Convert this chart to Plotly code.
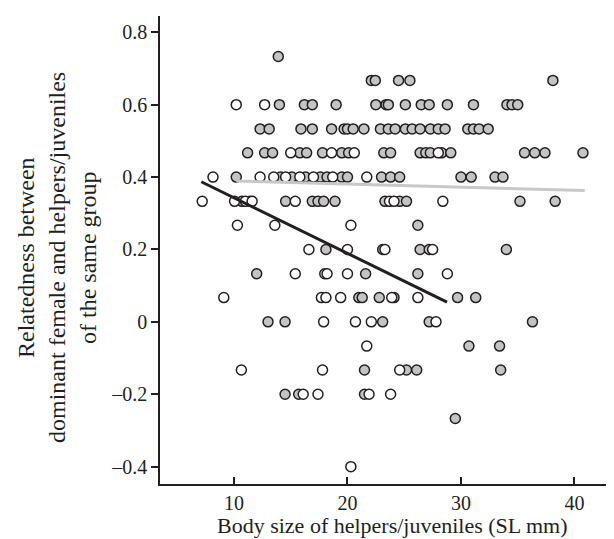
import plotly.graph_objects as go

# ---- data ----
grey_x = [13.9,
          22.1, 22.45, 24.5, 25.5, 38.1,
          14.0, 16.2, 16.9, 19.0, 22.5, 23.4, 23.6, 25.1, 26.5, 27.2, 28.8, 31.1, 34.05, 34.5, 35.0,
          12.3, 13.1, 15.9, 16.9, 18.6, 19.7, 20.0, 20.5, 21.45, 22.9, 23.6, 24.2, 25.1, 25.7, 26.4, 27.3, 28.0, 28.6, 30.6, 31.1, 31.6, 32.4,
          11.2, 12.7, 13.4, 15.8, 16.4, 17.8, 19.5, 20.1, 23.2, 23.8, 26.4, 26.9, 27.3, 28.3, 29.1, 35.6, 36.5, 37.4, 40.75,
          10.2, 14.1, 15.1, 16.3, 17.6, 18.2, 19.5, 20.0, 23.0, 23.8, 24.6, 30.0, 30.9, 33.0, 33.7,
          10.7, 11.4, 14.55, 16.9, 17.4, 17.9, 18.9, 23.3, 24.6, 25.2, 35.2, 38.3,
          26.2,
          18.1, 23.1, 26.4, 27.2, 34.0,
          12.0, 21.6, 26.2,
          21.0, 21.3, 22.8, 24.1, 29.7, 31.3,
          13.0, 14.5, 23.1, 27.2, 36.3,
          30.7, 33.4,
          21.5, 25.2, 26.1, 33.5,
          14.5, 15.7, 21.5,
          29.5]
grey_y = [0.733,
          0.667, 0.667, 0.667, 0.667, 0.667,
          0.6, 0.6, 0.6, 0.6, 0.6, 0.6, 0.6, 0.6, 0.6, 0.6, 0.6, 0.6, 0.6, 0.6, 0.6,
          0.533, 0.533, 0.533, 0.533, 0.533, 0.533, 0.533, 0.533, 0.533, 0.533, 0.533, 0.533, 0.533, 0.533, 0.533, 0.533, 0.533, 0.533, 0.533, 0.533, 0.533, 0.533,
          0.467, 0.467, 0.467, 0.467, 0.467, 0.467, 0.467, 0.467, 0.467, 0.467, 0.467, 0.467, 0.467, 0.467, 0.467, 0.467, 0.467, 0.467, 0.467,
          0.4, 0.4, 0.4, 0.4, 0.4, 0.4, 0.4, 0.4, 0.4, 0.4, 0.4, 0.4, 0.4, 0.4, 0.4,
          0.333, 0.333, 0.333, 0.333, 0.333, 0.333, 0.333, 0.333, 0.333, 0.333, 0.333, 0.333,
          0.267,
          0.2, 0.2, 0.2, 0.2, 0.2,
          0.133, 0.133, 0.133,
          0.067, 0.067, 0.067, 0.067, 0.067, 0.067,
          0.0, 0.0, 0.0, 0.0, 0.0,
          -0.067, -0.067,
          -0.133, -0.133, -0.133, -0.133,
          -0.2, -0.2, -0.2,
          -0.267]

open_x = [10.2, 12.7,
          15.0, 18.6, 20.6, 28.0,
          8.15, 12.3, 13.5, 14.55, 15.8, 17.0, 18.7, 21.7,
          7.2, 10.05, 11.0, 11.6, 15.4, 23.7, 24.1, 28.4,
          10.3, 13.6, 20.3,
          16.6, 20.0, 23.3, 27.5,
          15.4, 18.0, 18.2, 20.0, 28.8,
          9.1, 17.7, 18.1, 19.4, 23.9, 26.2,
          17.9, 20.7, 22.1, 27.8,
          21.7,
          10.65, 17.8, 24.6,
          16.1, 17.4, 21.9, 23.8,
          20.3]
open_y = [0.6, 0.6,
          0.467, 0.467, 0.467, 0.467,
          0.4, 0.4, 0.4, 0.4, 0.4, 0.4, 0.4, 0.4,
          0.333, 0.333, 0.333, 0.333, 0.333, 0.333, 0.333, 0.333,
          0.267, 0.267, 0.267,
          0.2, 0.2, 0.2, 0.2,
          0.133, 0.133, 0.133, 0.133, 0.133,
          0.067, 0.067, 0.067, 0.067, 0.067, 0.067,
          0.0, 0.0, 0.0, 0.0,
          -0.067,
          -0.133, -0.133, -0.133,
          -0.2, -0.2, -0.2, -0.2,
          -0.4]

# regression line endpoints
fit_open_x = [7.12, 28.77]
fit_open_y = [0.387, 0.0545]
fit_grey_x = [10.2, 40.9]
fit_grey_y = [0.389, 0.363]

x_tick_vals = [10, 20, 30, 40]
y_tick_vals = [-0.4, -0.2, 0, 0.2, 0.4, 0.6, 0.8]
y_tick_text = ["\u20130.4", "\u20130.2", "0", "0.2", "0.4", "0.6", "0.8"]

x_title = "Body size of helpers/juveniles (SL mm)"
y_title_lines = ["Relatedness between",
                 "dominant female and helpers/juveniles",
                 "of the same group"]

FONT = "Liberation Serif"
INK = "#231f20"

fig = go.Figure()
fig.add_trace(go.Scatter(x=grey_x, y=grey_y, mode="markers",
                         marker=dict(size=10, color="#c4c4c4", line=dict(color=INK, width=1.5)),
                         showlegend=False, hoverinfo="skip"))
fig.add_trace(go.Scatter(x=open_x, y=open_y, mode="markers",
                         marker=dict(size=10, color="white", line=dict(color=INK, width=1.5)),
                         showlegend=False, hoverinfo="skip"))
fig.add_trace(go.Scatter(x=fit_grey_x, y=fit_grey_y, mode="lines",
                         line=dict(color="#c8c8c8", width=3), showlegend=False, hoverinfo="skip"))
fig.add_trace(go.Scatter(x=fit_open_x, y=fit_open_y, mode="lines",
                         line=dict(color=INK, width=3), showlegend=False, hoverinfo="skip"))

W, H = 614, 539
L, R, T, B = 152, 6, 8, 63
pw = W - L - R
ph = H - T - B

fig.update_layout(
    width=W, height=H,
    margin=dict(l=L, r=R, t=T, b=B, pad=0),
    paper_bgcolor="white", plot_bgcolor="white",
    font=dict(family=FONT, size=20, color=INK),
    xaxis=dict(range=[3.48, 43.66], showgrid=False, zeroline=False,
               showline=True, linecolor=INK, linewidth=1.5,
               ticks="inside", ticklen=7, tickwidth=1.5, tickcolor=INK,
               tickvals=x_tick_vals, tickfont=dict(size=20, family=FONT, color=INK)),
    yaxis=dict(range=[-0.448, 0.845], showgrid=False, zeroline=False,
               showline=True, linecolor=INK, linewidth=1.5,
               ticks="outside", ticklen=7, tickwidth=1.5, tickcolor=INK,
               tickvals=y_tick_vals, ticktext=y_tick_text,
               tickfont=dict(size=20, family=FONT, color=INK)),
)

annotations = [dict(text=x_title, xref="paper", yref="paper",
                    x=(384 - L) / pw, y=(H - B - 517) / ph,
                    xanchor="center", yanchor="middle", showarrow=False,
                    font=dict(size=22, family=FONT, color=INK))]
for xpix, line in zip([18, 49, 80], y_title_lines):
    annotations.append(dict(text=line, xref="paper", yref="paper",
                            x=(xpix - L) / pw, y=(H - B - 250) / ph,
                            xanchor="center", yanchor="middle", textangle=-90,
                            showarrow=False, font=dict(size=24, family=FONT, color=INK)))
fig.update_layout(annotations=annotations)

fig.write_html("out.html")
